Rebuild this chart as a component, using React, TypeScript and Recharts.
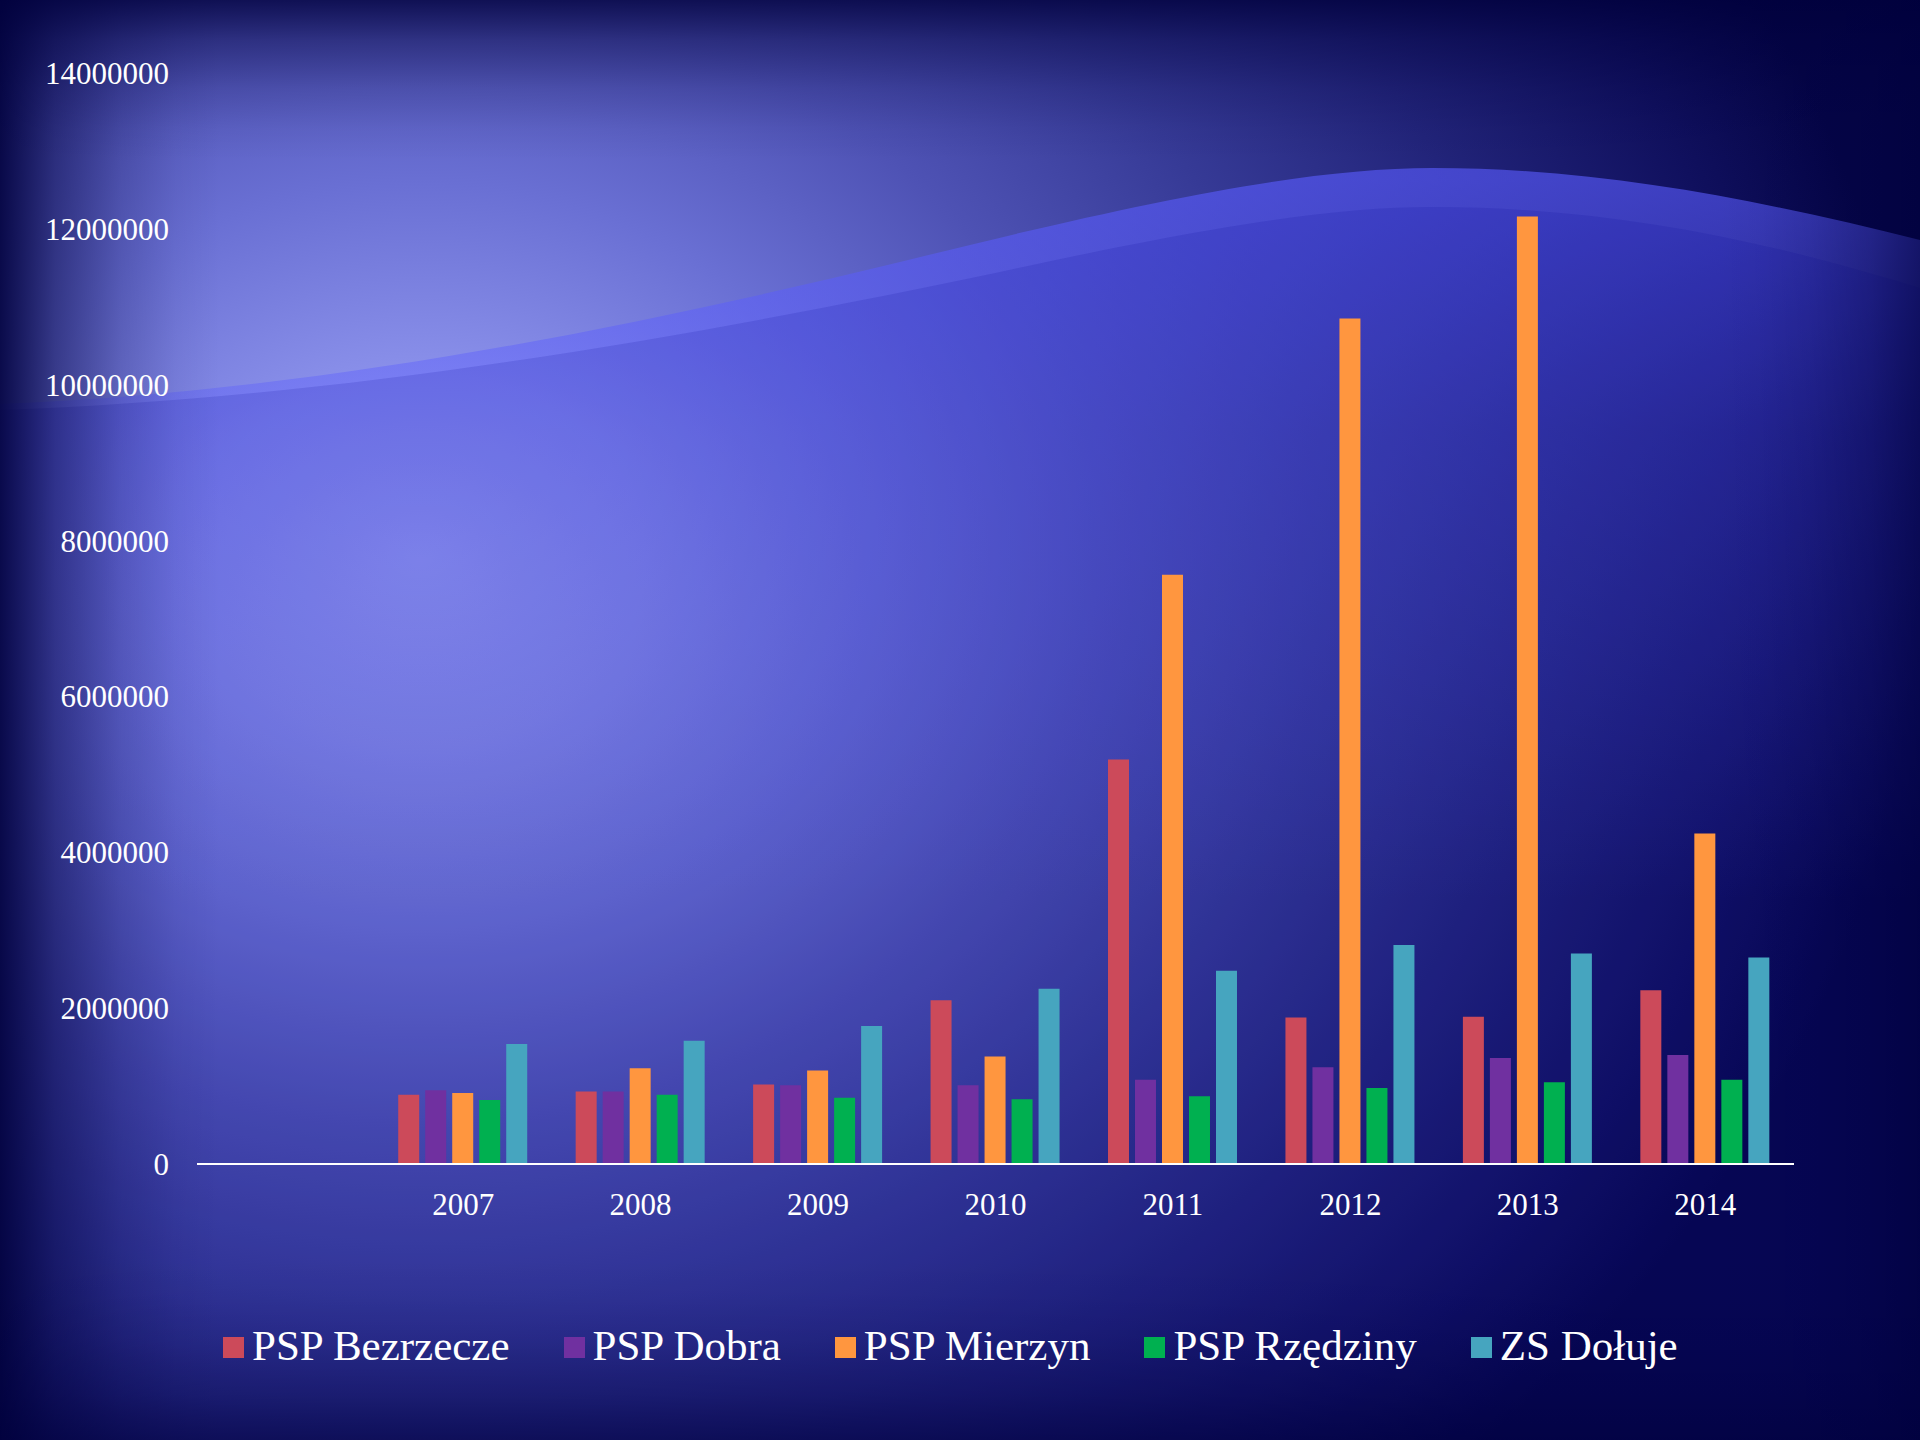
import React from "react";
import { BarChart, Bar, XAxis, YAxis } from "recharts";

const years = ["", "2007", "2008", "2009", "2010", "2011", "2012", "2013", "2014"];
const seriesNames = ["PSP Bezrzecze", "PSP Dobra", "PSP Mierzyn", "PSP Rzędziny", "ZS Dołuje"];
const seriesColors = ["#CC4A5A", "#7030A0", "#FF963F", "#00B050", "#46A5BF"];

const bezrzecze = [null, 890000, 930000, 1020000, 2100000, 5190000, 1880000, 1890000, 2230000];
const dobra = [null, 945000, 930000, 1010000, 1010000, 1080000, 1240000, 1360000, 1400000];
const mierzyn = [null, 910000, 1230000, 1200000, 1380000, 7560000, 10850000, 12160000, 4240000];
const rzedziny = [null, 820000, 890000, 850000, 830000, 870000, 975000, 1050000, 1080000];
const doluje = [null, 1540000, 1580000, 1770000, 2250000, 2480000, 2810000, 2700000, 2650000];

const yTicks = [0, 2000000, 4000000, 6000000, 8000000, 10000000, 12000000, 14000000];

const seriesValues = [bezrzecze, dobra, mierzyn, rzedziny, doluje];
const keys = ["s0", "s1", "s2", "s3", "s4"];

const data = years.map((y, i) => {
  const row: Record<string, any> = { year: y };
  keys.forEach((k, j) => {
    row[k] = seriesValues[j][i];
  });
  return row;
});

const FONT = "'Liberation Serif', 'Times New Roman', serif";

function Background() {
  const c1 =
    "M0,404 C300,392 600,335 900,262 C1130,205 1300,168 1433,168 C1600,168 1760,200 1920,240";
  const c2 =
    "M0,410 C350,398 700,335 1000,272 C1200,228 1330,207 1433,207 C1620,207 1780,245 1920,288";
  const fade = (id: string, x1: string, y1: string, x2: string, y2: string, a: number) => (
    <linearGradient id={id} x1={x1} y1={y1} x2={x2} y2={y2}>
      <stop offset="0" stopColor="#00003c" stopOpacity={a} />
      <stop offset="0.25" stopColor="#00003c" stopOpacity={a * 0.55} />
      <stop offset="0.55" stopColor="#00003c" stopOpacity={a * 0.22} />
      <stop offset="0.8" stopColor="#00003c" stopOpacity={a * 0.06} />
      <stop offset="1" stopColor="#00003c" stopOpacity={0} />
    </linearGradient>
  );
  return (
    <svg
      width={1920}
      height={1440}
      style={{ position: "absolute", left: 0, top: 0 }}
    >
      <defs>
        <radialGradient
          id="bgRad"
          gradientUnits="userSpaceOnUse"
          cx={420}
          cy={560}
          r={1500}
          gradientTransform="translate(420 560) scale(1 0.833) translate(-420 -560)"
        >
          <stop offset="0" stopColor="#a0a6f5" />
          <stop offset="0.15" stopColor="#8a90ea" />
          <stop offset="0.3" stopColor="#6a70d4" />
          <stop offset="0.45" stopColor="#4e52b4" />
          <stop offset="0.6" stopColor="#363a96" />
          <stop offset="0.75" stopColor="#22247a" />
          <stop offset="0.9" stopColor="#10105e" />
          <stop offset="1" stopColor="#050548" />
        </radialGradient>
        {fade("leftV", "0", "0", "1", "0", 0.9)}
        {fade("topV", "0", "0", "0", "1", 0.8)}
        {fade("botV", "0", "1", "0", "0", 0.6)}
        {fade("rightV", "1", "0", "0", "0", 0.6)}
        <linearGradient
          id="waveFill"
          gradientUnits="userSpaceOnUse"
          x1="0"
          y1="180"
          x2="0"
          y2="900"
        >
          <stop offset="0" stopColor="#5a5cff" stopOpacity="0.62" />
          <stop offset="0.35" stopColor="#5a5cff" stopOpacity="0.32" />
          <stop offset="1" stopColor="#5a5cff" stopOpacity="0" />
        </linearGradient>
      </defs>
      <rect x={0} y={0} width={1920} height={1440} fill="url(#bgRad)" />
      <path d={`${c1} L1920,1440 L0,1440 Z`} fill="url(#waveFill)" />
      <path d={`${c2} L1920,1440 L0,1440 Z`} fill="#10109a" fillOpacity={0.15} />
      <rect x={0} y={0} width={220} height={1440} fill="url(#leftV)" />
      <rect x={0} y={0} width={1920} height={160} fill="url(#topV)" />
      <rect x={0} y={1260} width={1920} height={180} fill="url(#botV)" />
      <rect x={1720} y={0} width={200} height={1440} fill="url(#rightV)" />
    </svg>
  );
}

function LegendBox() {
  return (
    <div
      style={{
        position: "absolute",
        left: 223,
        top: 1318,
        display: "flex",
        alignItems: "center",
        fontFamily: FONT,
        fontSize: 43,
        color: "#ffffff",
        whiteSpace: "nowrap",
        lineHeight: "56px",
      }}
    >
      {seriesNames.map((n, i) => (
        <div
          key={n}
          style={{
            display: "flex",
            alignItems: "center",
            marginRight: 54,
          }}
        >
          <div
            style={{
              width: 21,
              height: 21,
              background: seriesColors[i],
              marginRight: 8,
              marginTop: 2,
            }}
          />
          <span>{n}</span>
        </div>
      ))}
    </div>
  );
}

export default function App() {
  return (
    <div
      style={{
        position: "absolute",
        left: 0,
        top: 0,
        width: 1920,
        height: 1440,
        overflow: "hidden",
        background: "#0a0a50",
      }}
    >
      <Background />
      <div style={{ position: "absolute", left: 0, top: 0 }}>
        <BarChart
          width={1920}
          height={1440}
          data={data}
          margin={{ top: 73, right: 126, bottom: 0, left: 0 }}
          barCategoryGap="13.4%"
          barGap={6}
        >
          <XAxis
            dataKey="year"
            height={276}
            axisLine={{ stroke: "#ffffff", strokeWidth: 2 }}
            tickLine={false}
            tickSize={0}
            tickMargin={29}
            interval={0}
            tick={{ fill: "#ffffff", fontSize: 31, fontFamily: FONT }}
          />
          <YAxis
            width={197}
            domain={[0, 14000000]}
            ticks={yTicks}
            axisLine={false}
            tickLine={false}
            tickSize={0}
            tickMargin={28}
            interval={0}
            tick={{ fill: "#ffffff", fontSize: 31, fontFamily: FONT }}
          />
          {keys.map((k, i) => (
            <Bar
              key={k}
              dataKey={k}
              name={seriesNames[i]}
              fill={seriesColors[i]}
              isAnimationActive={false}
            />
          ))}
        </BarChart>
      </div>
      <LegendBox />
    </div>
  );
}
